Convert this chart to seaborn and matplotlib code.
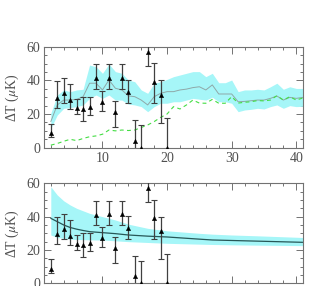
import numpy as np
import pandas as pd
import seaborn as sns
import matplotlib.pyplot as plt

# ---- data ----
ell_pts = [2, 3, 4, 5, 6, 7, 8, 9, 10, 11, 12, 13, 14, 15, 16, 17, 18, 19, 20]
dT_pts = [8.6, 29.3, 32.7, 28.3, 23.4, 23.0, 24.4, 41.2, 27.3, 41.6, 21.4, 41.6,
          33.3, 4.2, 0.0, 57.0, 39.2, 31.3, 0.0]
err_hi = [14.3, 39.8, 41.6, 37.7, 29.0, 30.3, 29.9, 49.5, 33.9, 49.5, 27.9, 49.5,
          40.2, 16.5, 13.5, 62.0, 50.1, 40.0, 17.5]
err_lo = [6.2, 23.4, 26.4, 22.8, 20.0, 15.9, 19.2, 34.7, 21.8, 34.7, 12.1, 34.7,
          26.4, -3.0, -3.0, 48.5, 26.4, 14.5, -3.0]

# top panel: model band, its centre line and the dashed green curve
ell_band = list(range(2, 42))
band_hi = [20.4, 31.3, 34.3, 33.3, 34.3, 34.7, 49.1, 48.1, 44.2, 49.7, 45.2, 44.2,
           40.2, 39.2, 34.3, 32.3, 38.3, 39.2, 40.6, 42.2, 43.2, 44.2, 45.2, 45.2,
           42.2, 44.2, 38.6, 38.6, 40.2, 33.3, 34.3, 34.3, 34.7, 34.3, 36.2, 38.3,
           34.7, 36.2, 35.2, 35.2]
band_lo = [11.5, 19.4, 23.4, 23.8, 24.4, 25.4, 29.3, 31.3, 29.3, 31.3, 28.3, 28.3,
           25.9, 25.4, 24.4, 21.4, 24.4, 26.4, 26.4, 27.3, 27.3, 28.3, 29.3, 28.8,
           28.3, 30.0, 27.3, 27.3, 26.4, 21.4, 22.4, 22.8, 23.4, 23.0, 24.4, 25.4,
           23.4, 25.0, 24.4, 24.6]
band_mid = [15.5, 25.4, 28.3, 28.3, 28.7, 30.3, 38.3, 38.3, 34.3, 40.2, 35.3, 34.3,
            30.8, 30.3, 28.3, 25.4, 30.3, 32.3, 33.3, 33.3, 34.3, 34.8, 35.7, 36.2,
            34.3, 37.3, 31.9, 31.9, 31.9, 27.3, 27.5, 27.9, 28.3, 28.3, 29.3, 30.7,
            28.3, 29.9, 29.3, 29.9]
green = [1.5, 2.5, 3.8, 5.0, 4.2, 5.5, 6.5, 7.0, 8.0, 10.5, 10.0, 10.5, 10.2, 10.5,
         12.0, 13.5, 15.5, 18.0, 20.0, 24.4, 23.0, 25.4, 28.3, 26.5, 26.4, 28.7,
         26.4, 26.4, 30.3, 26.5, 27.0, 27.3, 28.0, 27.8, 28.3, 30.9, 28.3, 30.3,
         28.3, 29.5]

# bottom panel: fitted curve and its band
ell_fit = [2, 3, 4, 5, 6, 7, 8, 9, 10, 12, 14, 17, 20, 25, 27, 30, 34, 41]
fit_mid = [39.0, 37.0, 35.0, 33.5, 32.5, 31.7, 31.0, 30.7, 30.4, 29.8, 29.0, 28.3,
           27.8, 26.5, 26.0, 25.7, 25.3, 24.6]
fit_hi = [58.0, 53.0, 49.5, 47.0, 45.0, 43.5, 42.0, 41.0, 40.0, 38.0, 35.5, 33.0,
          31.5, 30.0, 29.5, 29.0, 28.5, 27.5]
fit_lo = [29.0, 27.5, 27.0, 26.5, 26.3, 26.2, 26.1, 26.0, 26.0, 25.5, 25.0, 24.5,
          24.0, 23.5, 23.3, 23.1, 22.9, 22.6]

pts = pd.DataFrame({"ell": ell_pts, "dT": dT_pts, "hi": err_hi, "lo": err_lo})
top = pd.DataFrame({"ell": ell_band, "hi": band_hi, "lo": band_lo,
                    "mid": band_mid, "green": green})
bot = pd.DataFrame({"ell": ell_fit, "mid": fit_mid, "hi": fit_hi, "lo": fit_lo})

sns.set_style("ticks")
plt.rcParams["font.family"] = ["Liberation Serif", "DejaVu Serif"]
plt.rcParams["mathtext.fontset"] = "stix"

CYAN = "#a6f6f8"
FRAME = "#727272"
TXT = "#505050"

fig = plt.figure(figsize=(3.19, 2.86), dpi=100)
ax1 = fig.add_axes([0.139, 0.4836, 0.810, 0.3531])
ax2 = fig.add_axes([0.139, 0.0094, 0.810, 0.3496])


def draw_points(ax):
    yerr = [pts["dT"] - pts["lo"], pts["hi"] - pts["dT"]]
    ax.errorbar(pts["ell"], pts["dT"], yerr=yerr, fmt="none", ecolor="#404040",
                elinewidth=0.9, capsize=2.0, capthick=0.8, zorder=4)
    sns.scatterplot(data=pts, x="ell", y="dT", marker="^", s=10, color="black",
                    edgecolor="black", linewidth=0.3, ax=ax, zorder=5)


def style_axis(ax, show_x):
    ax.set_xlim(1, 41)
    ax.set_ylim(0, 60)
    ax.set_xticks([10, 20, 30, 40])
    ax.set_xticks(np.arange(2, 41, 2), minor=True)
    ax.set_yticks([0, 20, 40, 60])
    ax.set_yticks(np.arange(0, 61, 5), minor=True)
    ax.tick_params(which="both", direction="in", top=True, right=True,
                   color=FRAME, width=0.7, labelcolor=TXT, labelsize=10, pad=3)
    ax.tick_params(which="major", length=5)
    ax.tick_params(which="minor", length=2.5)
    ax.tick_params(axis="x", labelbottom=show_x)
    for s in ax.spines.values():
        s.set_color(FRAME)
        s.set_linewidth(0.8)
        s.set_visible(True)
    ax.set_xlabel("")
    ax.set_ylabel(r"ΔT ($\mu$K)", fontsize=10, color=TXT, labelpad=4)


# top panel
ax1.fill_between(top["ell"], top["lo"], top["hi"], color=CYAN, lw=0, zorder=1)
sns.lineplot(data=top, x="ell", y="mid", color="#8fa8a8", lw=0.7, ax=ax1, zorder=2)
sns.lineplot(data=top, x="ell", y="green", color="#44dd44", lw=0.8, ax=ax1,
             zorder=3, linestyle=(0, (3.5, 3)))
draw_points(ax1)
style_axis(ax1, True)

# bottom panel
ax2.fill_between(bot["ell"], bot["lo"], bot["hi"], color=CYAN, lw=0, zorder=1)
sns.lineplot(data=bot, x="ell", y="mid", color="#275858", lw=0.9, ax=ax2, zorder=2)
draw_points(ax2)
style_axis(ax2, False)

fig.savefig("out.png", dpi=100)
